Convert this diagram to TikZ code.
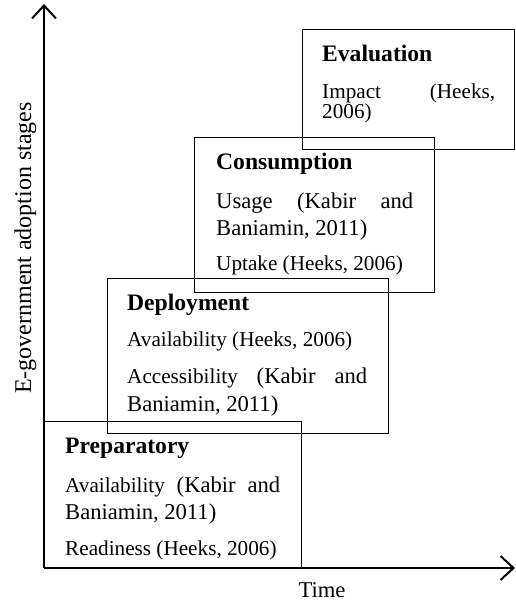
\documentclass[tikz,border=0pt]{standalone}
\usepackage{fontspec}
\setmainfont{Liberation Serif}
\usetikzlibrary{arrows.meta}
\newcommand\heeksfs{\fontsize{21.2pt}{24pt}\selectfont}
\newcommand\kabirfs{\fontsize{22.6pt}{26pt}\selectfont}
\newcommand\headfs{\fontsize{23.6pt}{27pt}\selectfont\bfseries}
\newcommand\ylabfs{\fontsize{24pt}{28pt}\selectfont}
\begin{document}
\begin{tikzpicture}[x=1pt,y=-1pt,
  stagebox/.style={draw, line width=1.2pt, inner sep=0pt, anchor=north west},
  txt/.style={anchor=base west, inner sep=0pt},
  axisline/.style={line width=2pt, -{Straight Barb[length=13pt,width=24pt]}}]
\useasboundingbox (0,0) rectangle (516,603);

% stage boxes
\node[stagebox, minimum width=257pt, minimum height=147pt] (prep) at (44,421) {};
\node[stagebox, minimum width=281pt, minimum height=155pt] (depl) at (107,278) {};
\node[stagebox, minimum width=240pt, minimum height=155pt] (cons) at (194,137) {};
\node[stagebox, minimum width=212pt, minimum height=120pt] (eval) at (302,29) {};

% Preparatory
\node[txt] (prep-h) at (65,453) {\headfs Preparatory};
\node[txt] (prep-1) at (65,492.7) {\hbox to 215pt{\heeksfs Availability\hfill\kabirfs(Kabir\hfill and}};
\node[txt] (prep-2) at (65,519.3) {\kabirfs Baniamin, 2011)};
\node[txt] (prep-3) at (65,555) {\heeksfs Readiness (Heeks, 2006)};

% Deployment
\node[txt] (depl-h) at (127,310) {\headfs Deployment};
\node[txt] (depl-1) at (127,346) {\heeksfs Availability (Heeks, 2006)};
\node[txt] (depl-2) at (127,383) {\hbox to 240pt{\heeksfs Accessibility\hfill\kabirfs(Kabir\hfill and}};
\node[txt] (depl-3) at (127,411) {\kabirfs Baniamin, 2011)};

% Consumption
\node[txt] (cons-h) at (216,169) {\headfs Consumption};
\node[txt] (cons-1) at (216,208) {\hbox to 197pt{\kabirfs Usage\hfill(Kabir\hfill and}};
\node[txt] (cons-2) at (216,235) {\kabirfs Baniamin, 2011)};
\node[txt] (cons-3) at (216,270) {\heeksfs Uptake (Heeks, 2006)};

% Evaluation
\node[txt] (eval-h) at (322,61) {\headfs Evaluation};
\node[txt] (eval-1) at (322,98) {\hbox to 173pt{\heeksfs Impact\hfill(Heeks,}};
\node[txt] (eval-2) at (322,118) {\heeksfs 2006)};

% axes
\coordinate (o) at (44,568);
\coordinate (ytop) at (44,4);
\coordinate (xend) at (515,568);
\draw[axisline] (o) -- (ytop);
\draw[axisline] (o) -- (xend);
\node[anchor=base, inner sep=0pt] (tlab) at (322,597) {\kabirfs Time};
\node[anchor=base, inner sep=0pt, rotate=90] (ylab) at (31,248) {\ylabfs E-government adoption stages};
\end{tikzpicture}
\end{document}
